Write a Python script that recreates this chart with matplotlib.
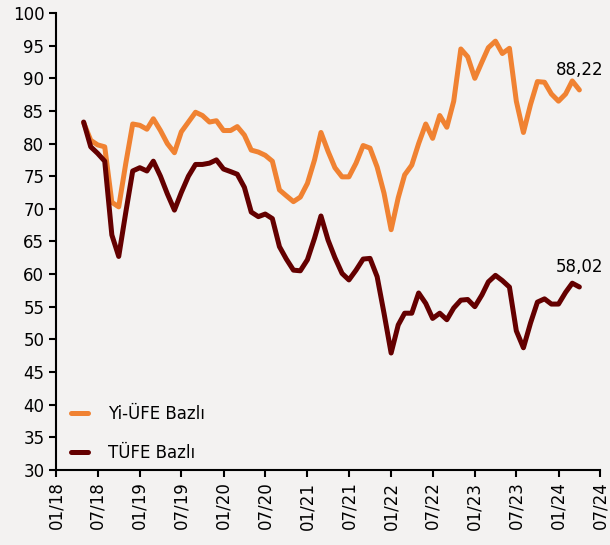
import pandas as pd
import matplotlib
matplotlib.use("Agg")
import matplotlib.pyplot as plt
import matplotlib.dates as mdates

# monthly values, 05/18 - 04/24
months = pd.date_range("2018-05-01", "2024-04-01", freq="MS")

yi_ufe = [83.2, 80.5, 79.8, 79.5, 71.0, 70.3, 77.0, 83.0, 82.8, 82.2,
          83.8, 82.0, 80.0, 78.6, 81.8, 83.3, 84.8, 84.3, 83.3, 83.5,
          82.0, 82.0, 82.6, 81.3, 79.0, 78.7, 78.2, 77.3, 72.9, 72.0,
          71.1, 71.8, 73.9, 77.5, 81.7, 78.8, 76.3, 74.9, 74.9, 77.0,
          79.7, 79.3, 76.4, 72.4, 66.8, 71.7, 75.2, 76.7, 80.0, 83.0,
          80.8, 84.3, 82.5, 86.5, 94.5, 93.3, 90.0, 92.5, 94.7, 95.7,
          93.8, 94.6, 86.5, 81.7, 86.0, 89.5, 89.4, 87.6, 86.5, 87.6,
          89.6, 88.22]

tufe = [83.3, 79.5, 78.5, 77.3, 66.0, 62.7, 69.5, 75.8, 76.3, 75.8,
        77.3, 75.0, 72.3, 69.8, 72.5, 75.0, 76.8, 76.8, 77.0, 77.5,
        76.1, 75.7, 75.3, 73.3, 69.5, 68.8, 69.2, 68.5, 64.2, 62.3,
        60.6, 60.5, 62.2, 65.5, 68.9, 65.2, 62.5, 60.1, 59.1, 60.6,
        62.3, 62.4, 59.6, 54.0, 47.9, 52.2, 54.0, 54.0, 57.1, 55.5,
        53.2, 54.0, 53.0, 54.8, 56.0, 56.1, 55.0, 56.8, 58.8, 59.8,
        59.0, 58.0, 51.3, 48.7, 52.5, 55.7, 56.2, 55.4, 55.4, 57.2,
        58.6, 58.02]

bg = "#f3f2f1"
orange = "#f08232"
darkred = "#640000"

fig = plt.figure(figsize=(6.1, 5.45), dpi=100, facecolor=bg)
ax = fig.add_axes([0.092, 0.138, 0.892, 0.838], facecolor=bg)

ax.plot(months, yi_ufe, color=orange, lw=3.6, label="Yi-ÜFE Bazlı", solid_capstyle="round")
ax.plot(months, tufe, color=darkred, lw=3.6, label="TÜFE Bazlı", solid_capstyle="round")

ax.annotate("88,22", (months[-1], yi_ufe[-1]), xytext=(0, 8), textcoords="offset points",
            fontsize=12, ha="center", va="bottom")
ax.annotate("58,02", (months[-1], tufe[-1]), xytext=(0, 8), textcoords="offset points",
            fontsize=12, ha="center", va="bottom")

ax.set_ylim(30, 100)
ax.set_yticks(range(30, 101, 5))
ax.set_xlim(pd.Timestamp("2018-01-01"), pd.Timestamp("2024-07-01"))
ax.set_xticks(pd.date_range("2018-01-01", "2024-07-01", freq="6MS"))
ax.xaxis.set_major_formatter(mdates.DateFormatter("%m/%y"))

for s in ["top", "right"]:
    ax.spines[s].set_visible(False)
for s in ["left", "bottom"]:
    ax.spines[s].set_linewidth(1.5)
ax.tick_params(axis="both", length=5, width=1.5, labelsize=12)
ax.tick_params(axis="x", rotation=90)

ax.legend(loc="lower left", bbox_to_anchor=(0.0, -0.015), frameon=False, fontsize=12,
          handlelength=1.0, handletextpad=1.2, labelspacing=1.25)

fig.savefig("out.png", dpi=100, facecolor=bg)
